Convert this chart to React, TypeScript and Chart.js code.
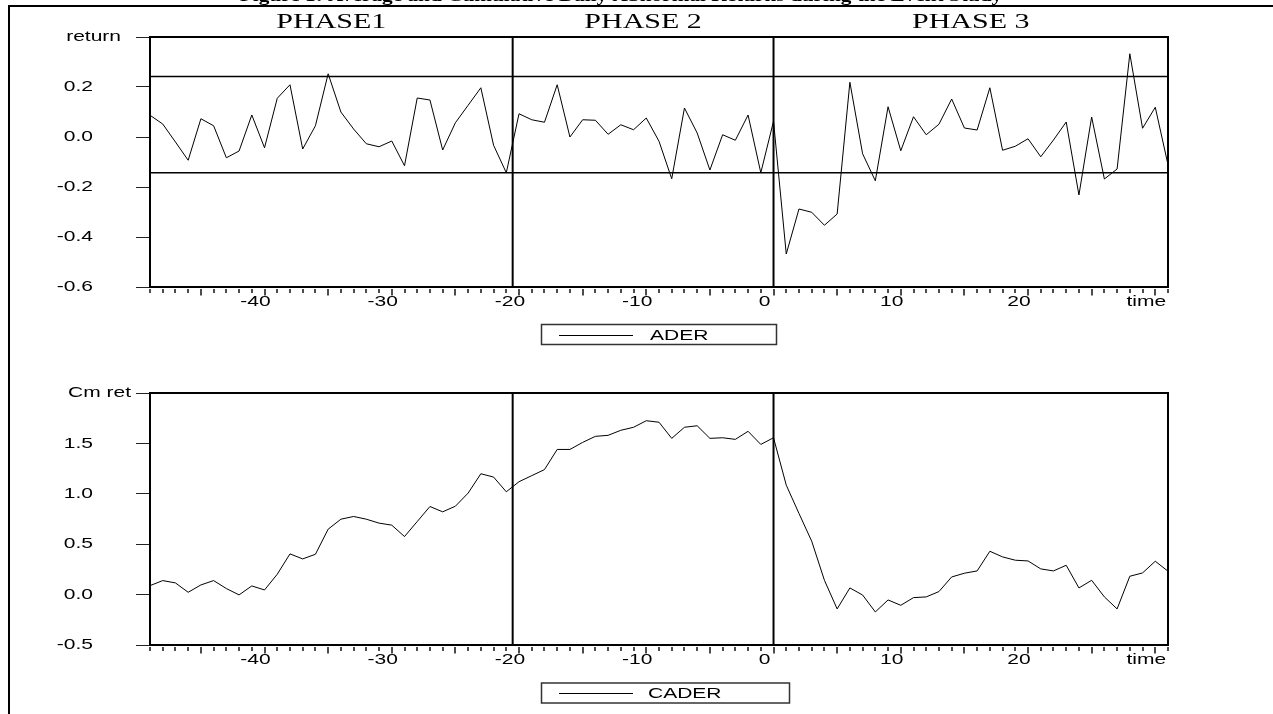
import React, { useEffect, useRef } from 'react';
import { Chart, registerables } from 'chart.js';

Chart.register(...registerables);

// ---------------- data ----------------
const TIME = [
  -49, -48, -47, -46, -45, -44, -43, -42, -41, -40,
  -39, -38, -37, -36, -35, -34, -33, -32, -31, -30,
  -29, -28, -27, -26, -25, -24, -23, -22, -21, -20,
  -19, -18, -17, -16, -15, -14, -13, -12, -11, -10,
  -9, -8, -7, -6, -5, -4, -3, -2, -1, 0,
  1, 2, 3, 4, 5, 6, 7, 8, 9, 10,
  11, 12, 13, 14, 15, 16, 17, 18, 19, 20,
  21, 22, 23, 24, 25, 26, 27, 28, 29, 30, 31,
];

const ADER = [
  0.087, 0.052, -0.020, -0.093, 0.073, 0.045, -0.083, -0.056, 0.088, -0.043,
  0.155, 0.209, -0.048, 0.045, 0.253, 0.100, 0.032, -0.027, -0.039, -0.016,
  -0.115, 0.156, 0.148, -0.052, 0.057, 0.127, 0.197, -0.033, -0.143, 0.093,
  0.069, 0.059, 0.209, 0.000, 0.069, 0.067, 0.011, 0.049, 0.029, 0.076,
  -0.017, -0.167, 0.116, 0.016, -0.132, 0.009, -0.013, 0.088, -0.143, 0.063,
  -0.468, -0.288, -0.301, -0.353, -0.308, 0.219, -0.067, -0.175, 0.121, -0.055,
  0.081, 0.009, 0.051, 0.152, 0.036, 0.028, 0.197, -0.053, -0.037, -0.007,
  -0.079, -0.012, 0.060, -0.232, 0.080, -0.168, -0.128, 0.333, 0.035, 0.119, -0.111,
];

const CADER = [
  0.089, 0.139, 0.116, 0.023, 0.096, 0.139, 0.060, -0.003, 0.086, 0.046,
  0.202, 0.404, 0.354, 0.400, 0.649, 0.748, 0.775, 0.748, 0.709, 0.689,
  0.576, 0.725, 0.874, 0.821, 0.877, 1.007, 1.199, 1.166, 1.020, 1.120,
  1.180, 1.240, 1.440, 1.440, 1.510, 1.570, 1.580, 1.630, 1.660, 1.725,
  1.710, 1.550, 1.660, 1.675, 1.550, 1.556, 1.540, 1.620, 1.490, 1.556,
  1.086, 0.805, 0.530, 0.142, -0.142, 0.066, -0.004, -0.172, -0.053, -0.106,
  -0.030, -0.023, 0.030, 0.175, 0.212, 0.235, 0.430, 0.374, 0.341, 0.334,
  0.255, 0.235, 0.291, 0.066, 0.142, -0.023, -0.142, 0.182, 0.215, 0.331, 0.232,
];

const ADER_UPPER = 0.242;
const ADER_LOWER = -0.1425;

const PHASE_BOUNDS = [-49, -20.5, 0, 31];
const PHASE_BREAKS = [-20.5, 0];
const PHASE_LABELS = ['PHASE1', 'PHASE 2', 'PHASE 3'];

const X_TICKS = [-40, -30, -20, -10, 0, 10, 20, 30];
const X_TICK_LABELS = ['-40', '-30', '-20', '-10', '0', '10', '20', 'time'];

const Y1_TICKS = [-0.6, -0.4, -0.2, 0, 0.2, 0.4];
const Y1_TICK_LABELS = ['-0.6', '-0.4', '-0.2', '0.0', '0.2', ''];
const Y1_TITLE = 'return';

const Y2_TICKS = [-0.5, 0, 0.5, 1.0, 1.5, 2.0];
const Y2_TICK_LABELS = ['-0.5', '0.0', '0.5', '1.0', '1.5', ''];
const Y2_TITLE = 'Cm ret';

const TOP_LEGEND = 'ADER';
const BOTTOM_LEGEND = 'CADER';
const TITLE = 'Figure 1: Average and Cumulative Daily Abnormal Returns during the Event Study';

// ---------------- styling ----------------
const SANS = '"Liberation Sans", Arial, Helvetica, sans-serif';
const SERIF = '"Liberation Serif", "Times New Roman", serif';
const SANS_STRETCH = 1.4;

function patchStretch(ctx: any) {
  if (ctx.__patched) return;
  const orig = ctx.fillText.bind(ctx);
  ctx.__sx = SANS_STRETCH;
  ctx.fillText = (text: string, x: number, y: number) => {
    ctx.save();
    ctx.translate(x, y);
    ctx.scale(ctx.__sx, 1);
    orig(text, 0, 0);
    ctx.restore();
  };
  ctx.__patched = true;
}

type PanelOpts = {
  values: number[];
  yMin: number;
  yMax: number;
  yTicks: number[];
  yLabels: string[];
  yTitle: string;
  yTitleRight: number;
  bands: number[];
  padTop: number;
  xAxisHeight: number;
  legend: string;
  legendBox: { x: number; y: number; w: number; h: number };
  legendLine: { x1: number; x2: number };
  legendTextX: number;
  header: boolean;
};

function makeConfig(o: PanelOpts): any {
  const lineDs = (data: { x: number; y: number }[], width: number) => ({
    data,
    borderColor: '#000',
    borderWidth: width,
    pointRadius: 0,
    tension: 0,
    fill: false,
  });

  const datasets: any[] = [
    lineDs(TIME.map((t, i) => ({ x: t, y: o.values[i] })), 1),
    ...o.bands.map((b) =>
      lineDs([{ x: TIME[0], y: b }, { x: TIME[TIME.length - 1], y: b }], 1.5)
    ),
    ...PHASE_BREAKS.map((p) => lineDs([{ x: p, y: o.yMin }, { x: p, y: o.yMax }], 2)),
  ];

  const decor = {
    id: 'decor',
    beforeDraw(chart: any) {
      patchStretch(chart.ctx);
    },
    afterDraw(chart: any) {
      const ctx = chart.ctx;
      const a = chart.chartArea;
      const x = chart.scales.x;
      const y = chart.scales.y;
      ctx.save();
      // plot frame
      ctx.strokeStyle = '#000';
      ctx.lineWidth = 2;
      ctx.strokeRect(a.left, a.top, a.right - a.left, a.bottom - a.top);
      // x tick marks
      ctx.lineWidth = 1.5;
      ctx.strokeStyle = '#111';
      for (const t of TIME) {
        const px = Math.round(x.getPixelForValue(t));
        const major = t % 5 === 0;
        ctx.beginPath();
        ctx.moveTo(px, a.bottom + 2);
        ctx.lineTo(px, a.bottom + (major ? 8.5 : 6));
        ctx.stroke();
      }
      // y axis title at top tick
      ctx.fillStyle = '#000';
      ctx.font = `15px ${SANS}`;
      ctx.textAlign = 'right';
      ctx.textBaseline = 'middle';
      ctx.__sx = SANS_STRETCH;
      ctx.fillText(o.yTitle, o.yTitleRight, y.getPixelForValue(o.yMax));
      // legend box
      const lb = o.legendBox;
      ctx.strokeStyle = '#333';
      ctx.lineWidth = 1.5;
      ctx.strokeRect(lb.x, lb.y, lb.w, lb.h);
      const ly = lb.y + lb.h / 2;
      ctx.strokeStyle = '#000';
      ctx.lineWidth = 1;
      ctx.beginPath();
      ctx.moveTo(o.legendLine.x1, Math.round(ly) + 0.5);
      ctx.lineTo(o.legendLine.x2, Math.round(ly) + 0.5);
      ctx.stroke();
      ctx.textAlign = 'left';
      ctx.fillText(o.legend, o.legendTextX, ly + 1);
      if (o.header) {
        // phase headings
        ctx.font = `20px ${SERIF}`;
        ctx.textAlign = 'center';
        ctx.textBaseline = 'alphabetic';
        ctx.__sx = 1.5;
        for (let i = 0; i < PHASE_LABELS.length; i++) {
          const mid = (PHASE_BOUNDS[i] + PHASE_BOUNDS[i + 1]) / 2;
          ctx.fillText(PHASE_LABELS[i], x.getPixelForValue(mid), 28);
        }
        // clipped figure title
        ctx.font = `bold 16px ${SERIF}`;
        ctx.__sx = 1.33;
        ctx.fillText(TITLE, 621, 0.5);
        ctx.__sx = SANS_STRETCH;
      }
      ctx.restore();
    },
  };

  return {
    type: 'line',
    data: { datasets },
    options: {
      responsive: false,
      animation: false,
      events: [],
      layout: { padding: { top: o.padTop, right: 105, left: 0, bottom: 0 } },
      plugins: {
        legend: { display: false },
        tooltip: { enabled: false },
        title: { display: false },
      },
      scales: {
        x: {
          type: 'linear',
          min: TIME[0],
          max: TIME[TIME.length - 1],
          afterBuildTicks: (s: any) => {
            s.ticks = X_TICKS.map((v) => ({ value: v }));
          },
          afterFit: (s: any) => {
            s.height = o.xAxisHeight;
            s.paddingLeft = 0;
            s.paddingRight = 0;
          },
          grid: { display: false, drawTicks: false },
          border: { display: false },
          ticks: {
            autoSkip: false,
            maxRotation: 0,
            minRotation: 0,
            padding: 6,
            labelOffset: -9,
            color: '#000',
            font: { family: SANS, size: 15 },
            callback: (_v: any, i: number) => X_TICK_LABELS[i],
          },
        },
        y: {
          type: 'linear',
          min: o.yMin,
          max: o.yMax,
          afterBuildTicks: (s: any) => {
            s.ticks = o.yTicks.map((v) => ({ value: v }));
          },
          afterFit: (s: any) => {
            s.width = 150;
            s.paddingTop = 0;
            s.paddingBottom = 0;
          },
          grid: {
            display: true,
            drawOnChartArea: false,
            drawTicks: true,
            tickLength: 14,
            color: '#222',
            lineWidth: 1,
          },
          border: { display: false },
          ticks: {
            autoSkip: false,
            padding: 43,
            color: '#000',
            font: { family: SANS, size: 15 },
            callback: (_v: any, i: number) => o.yLabels[i],
          },
        },
      },
    },
    plugins: [decor],
  };
}

export default function App() {
  const topRef = useRef<HTMLCanvasElement>(null);
  const botRef = useRef<HTMLCanvasElement>(null);

  useEffect(() => {
    const c1 = new Chart(
      topRef.current as HTMLCanvasElement,
      makeConfig({
        values: ADER,
        yMin: -0.6,
        yMax: 0.4,
        yTicks: Y1_TICKS,
        yLabels: Y1_TICK_LABELS,
        yTitle: Y1_TITLE,
        yTitleRight: 121,
        bands: [ADER_UPPER, ADER_LOWER],
        padTop: 37,
        xAxisHeight: 70,
        legend: TOP_LEGEND,
        legendBox: { x: 541.5, y: 324.5, w: 235, h: 20 },
        legendLine: { x1: 559, x2: 633 },
        legendTextX: 650,
        header: true,
      })
    );
    const c2 = new Chart(
      botRef.current as HTMLCanvasElement,
      makeConfig({
        values: CADER,
        yMin: -0.5,
        yMax: 2.0,
        yTicks: Y2_TICKS,
        yLabels: Y2_TICK_LABELS,
        yTitle: Y2_TITLE,
        yTitleRight: 131,
        bands: [],
        padTop: 36,
        xAxisHeight: 69,
        legend: BOTTOM_LEGEND,
        legendBox: { x: 541.5, y: 326, w: 248, h: 20 },
        legendLine: { x1: 559, x2: 633 },
        legendTextX: 648,
        header: false,
      })
    );
    return () => {
      c1.destroy();
      c2.destroy();
    };
  }, []);

  return (
    <div
      style={{
        position: 'absolute',
        left: 0,
        top: 0,
        width: 1273,
        height: 714,
        background: '#fff',
        overflow: 'hidden',
      }}
    >
      <canvas ref={topRef} width={1273} height={357} style={{ position: 'absolute', left: 0, top: 0 }} />
      <canvas ref={botRef} width={1273} height={357} style={{ position: 'absolute', left: 0, top: 357 }} />
      <div style={{ position: 'absolute', left: 8, top: 5, width: 1265, height: 2, background: '#000' }} />
      <div style={{ position: 'absolute', left: 8, top: 5, width: 2, height: 709, background: '#000' }} />
    </div>
  );
}
